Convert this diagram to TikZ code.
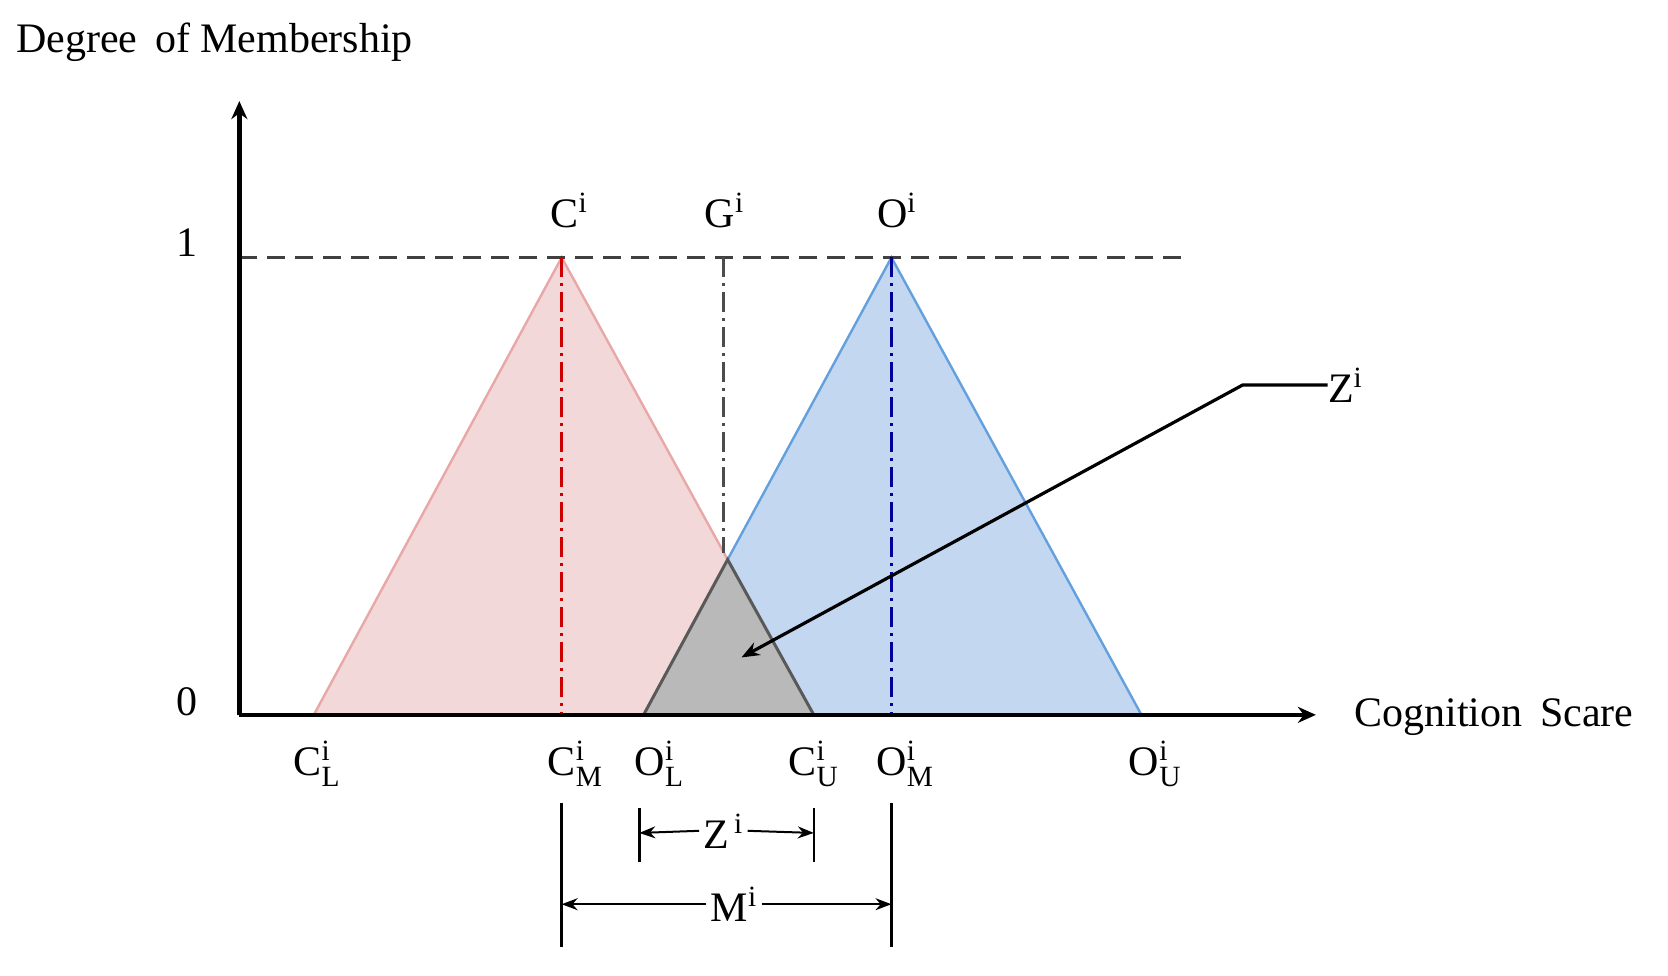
\documentclass[tikz,border=0pt]{standalone}
\usepackage{fontspec}
\setmainfont{Liberation Serif}
\usetikzlibrary{arrows.meta}
\begin{document}
\begin{tikzpicture}[x=0.532pt,y=-0.532pt,
  lbl/.style={font=\fontsize{21}{24}\selectfont,inner sep=0pt},
  ax/.style={line width=2.2pt,-{Stealth[length=9pt,width=8pt]}},
  dd/.style={dash pattern=on 10pt off 3pt on 1.5pt off 3pt,line width=1.3pt},
  dim/.style={line width=1pt,-{Stealth[length=8pt,width=6pt]}}]
\useasboundingbox (0,0) rectangle (1568,917);
\definecolor{rf}{RGB}{242,216,216}\definecolor{re}{RGB}{232,168,168}
\definecolor{bf}{RGB}{196,215,240}\definecolor{be}{RGB}{100,160,222}
\definecolor{gf}{RGB}{185,185,185}
\coordinate (CL) at (295,672);\coordinate (CM) at (528,242);\coordinate (CU) at (765,672);
\coordinate (OL) at (605,672);\coordinate (OM) at (838,242);\coordinate (OU) at (1073,672);
\coordinate (I) at (684,526);
\fill[rf] (CL)--(CM)--(CU)--cycle;
\fill[bf] (OL)--(OM)--(OU)--cycle;
\draw[re,line width=1.2pt] (CL)--(CM)--(I);
\draw[be,line width=1.2pt] (I)--(OM)--(OU);
\filldraw[fill=gf,draw=black!65,line width=1.5pt] (OL)--(I)--(CU)--cycle;
\draw[dashed,line width=1.3pt,black!75,dash pattern=on 9pt off 5pt] (225,242)--(1110,242);
\draw[dd,red!80!black] (528,242)--(528,672);
\draw[dd,blue!60!black] (838,242)--(838,672);
\draw[dd,black!70] (680,242)--(680,520);
\coordinate (O) at (225,672);
\coordinate (Y) at (225,95);\coordinate (X) at (1237,672);
\draw[ax] (O)--(Y);\draw[ax] (O)--(X);
\node[lbl,anchor=west] (dm) at (15,40) {Degree\, of Membership};
\node[lbl,anchor=west] (cs) at (1273,674) {Cognition\, Scare};
\node[lbl] (one) at (176,228) {1};
\node[lbl] (zero) at (176,660) {0};
\node[lbl] (C) at (535,198) {C$^{\mathrm{i}}$};
\node[lbl] (G) at (681,198) {G$^{\mathrm{i}}$};
\node[lbl] (Ot) at (843,198) {O$^{\mathrm{i}}$};
\node[lbl] (cl) at (298,718) {C$^{\mathrm{i}}_{\mathrm{L}}$};
\node[lbl] (cm) at (541,718) {C$^{\mathrm{i}}_{\mathrm{M}}$};
\node[lbl] (ol) at (620,718) {O$^{\mathrm{i}}_{\mathrm{L}}$};
\node[lbl] (cu) at (765,718) {C$^{\mathrm{i}}_{\mathrm{U}}$};
\node[lbl] (om) at (851,718) {O$^{\mathrm{i}}_{\mathrm{M}}$};
\node[lbl] (ou) at (1086,718) {O$^{\mathrm{i}}_{\mathrm{U}}$};
\node[lbl,anchor=west] (Z) at (1248,362) {Z$^{\mathrm{i}}$};
\coordinate (zk) at (1168,362);\coordinate (zt) at (697,618);
\draw[line width=1.6pt,-{Stealth[length=9pt,width=7pt]}] (Z.west)--(zk)--(zt);
\draw[line width=1.2pt] (528,755)--(528,890);
\draw[line width=1.2pt] (838,755)--(838,890);
\draw[line width=1.2pt] (601,760)--(601,810);
\draw[line width=1.2pt] (765,760)--(765,810);
\node[lbl] (zd) at (680,781) {Z$^{\,\mathrm{i}}$};
\node[lbl] (md) at (690,850) {M$^{\mathrm{i}}$};
\coordinate (za) at (601,783);\coordinate (zb) at (765,783);
\coordinate (ma) at (528,850);\coordinate (mb) at (838,850);
\draw[dim] ([xshift=-2pt]zd.west)--(za);\draw[dim] ([xshift=2pt]zd.east)--(zb);
\draw[dim] ([xshift=-2pt]md.west)--(ma);\draw[dim] ([xshift=2pt]md.east)--(mb);
\end{tikzpicture}
\end{document}
